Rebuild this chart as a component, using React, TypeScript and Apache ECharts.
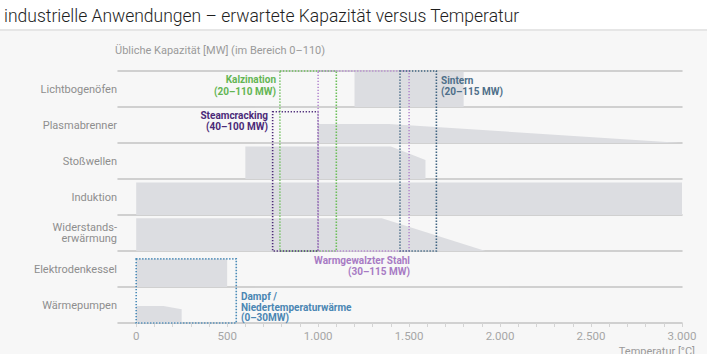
import React, { useEffect, useRef } from "react";
import * as echarts from "echarts";

// ---- data ----
const rowNames = [
  "Lichtbogenöfen",
  "Plasmabrenner",
  "Stoßwellen",
  "Induktion",
  "Widerstands-\nerwärmung",
  "Elektrodenkessel",
  "Wärmepumpen",
];

// capacity profiles: [temperature °C, capacity MW]
const lichtbogenoefen = [[1200, 0], [1200, 108], [1800, 108], [1800, 0]];
const plasmabrenner = [[1000, 0], [1000, 58], [1390, 58], [3000, 0]];
const stosswellen = [[600, 0], [600, 99], [1400, 99], [1590, 58], [1590, 0]];
const induktion = [[0, 0], [0, 99], [3000, 99], [3000, 0]];
const widerstand = [[0, 0], [0, 100], [1350, 100], [1920, 0]];
const elektrodenkessel = [[0, 0], [0, 86], [500, 86], [500, 0]];
const waermepumpen = [[0, 0], [0, 52], [150, 52], [250, 42], [250, 0]];
const profiles = [lichtbogenoefen, plasmabrenner, stosswellen, induktion, widerstand, elektrodenkessel, waermepumpen];

// application boxes: [tempMin, tempMax, rowTop, rowBottom] (rows counted from top)
const boxNames = ["Kalzination", "Steamcracking", "Warmgewalzter Stahl", "Sintern", "Dampf / Niedertemperaturwärme"];
const boxRanges = [
  [790, 1100, 0, 5],
  [750, 1000, 1.13, 5],
  [1000, 1500, 0, 5],
  [1450, 1650, 0, 5],
  [0, 550, 5.22, 7],
];
const boxColors = ["#6cbf5a", "#4b2a78", "#b58bd0", "#3f6482", "#4a8bb8"];

const labelTicks = [0, 500, 1000, 1500, 2000, 2500, 3000];
const minorTicks = [0, 100, 200, 300, 400, 500, 600, 700, 800, 900, 1000, 1100, 1200, 1300, 1400, 1500, 1600, 1700, 1800, 1900, 2000, 2100, 2200, 2300, 2400, 2500, 2600, 2700, 2800, 2900, 3000];

const FONT = 'Roboto, "Noto Sans", sans-serif';

export default function App() {
  const ref = useRef<HTMLDivElement>(null);
  useEffect(() => {
    if (!ref.current) return;
    const chart = echarts.init(ref.current, undefined, { renderer: "svg" });
    const left = 118;
    const right = 25;
    const rowTop = 71;
    const rowH = 36;
    const lineColor = "#c4c4c4";

    const grids: any[] = [];
    const xAxes: any[] = [];
    const yAxes: any[] = [];
    const series: any[] = [];

    profiles.forEach((p, i) => {
      const last = i === profiles.length - 1;
      grids.push({ left, right, top: rowTop + rowH * i, height: rowH });
      xAxes.push({
        type: "value",
        gridIndex: i,
        min: -100,
        max: 3000,
        axisLine: { show: true, lineStyle: { color: lineColor, width: 1.5 } },
        axisTick: last
          ? { show: true, customValues: minorTicks, length: 4, lineStyle: { color: "#d4d4d4" } }
          : { show: false },
        axisLabel: last
          ? {
              show: true,
              customValues: labelTicks,
              margin: 7,
              color: "#a6a6a6",
              fontSize: 11.5,
              fontFamily: FONT,
              formatter: (v: number) => String(v).replace(/\B(?=(\d{3})+(?!\d))/g, "."),
            }
          : { show: false },
        splitLine: { show: false },
      });
      yAxes.push({ type: "value", gridIndex: i, min: 0, max: 110, show: false });
      series.push({
        type: "line",
        name: rowNames[i],
        xAxisIndex: i,
        yAxisIndex: i,
        data: p,
        symbol: "none",
        lineStyle: { width: 0 },
        areaStyle: { color: "#dcdde1", opacity: 1 },
        silent: true,
        z: 1,
      });
    });

    // overlay grid
    grids.push({ left, right, top: rowTop, height: rowH * 7 });
    xAxes.push({
      type: "value",
      gridIndex: 7,
      position: "top",
      min: -100,
      max: 3000,
      axisLine: { show: true, lineStyle: { color: lineColor, width: 1.5 } },
      axisTick: { show: false },
      axisLabel: { show: false },
      splitLine: { show: false },
    });
    yAxes.push({
      type: "category",
      gridIndex: 7,
      data: rowNames,
      inverse: true,
      axisLine: { show: false },
      axisTick: { show: false },
      axisLabel: { color: "#8e8e8e", fontSize: 11, fontFamily: FONT, margin: 1, lineHeight: 11.5 },
    });
    yAxes.push({ type: "value", gridIndex: 7, min: 0, max: 7, inverse: true, show: false });

    boxRanges.forEach((b, k) => {
      series.push({
        type: "custom",
        name: boxNames[k],
        xAxisIndex: 7,
        yAxisIndex: 8,
        clip: false,
        silent: true,
        z: 5,
        encode: { x: [0, 1], y: [2, 3] },
        data: [b],
        renderItem: (_params: any, api: any) => {
          const p0 = api.coord([api.value(0), api.value(2)]);
          const p1 = api.coord([api.value(1), api.value(3)]);
          return {
            type: "rect",
            shape: { x: p0[0], y: p0[1], width: p1[0] - p0[0], height: p1[1] - p0[1] },
            style: { fill: "none", stroke: boxColors[k], lineWidth: 1.6, lineDash: [1.3, 1.7] },
          };
        },
      });
    });

    const bold = (text: string, x: number, y: number, align: string, fill: string, lh = 11.5) => ({
      type: "text",
      x,
      y,
      style: { text, align, verticalAlign: "top", fill, fontSize: 10, fontWeight: "bold", fontFamily: FONT, lineHeight: lh },
      z: 10,
    });

    chart.setOption({
      animation: false,
      title: {
        text: "industrielle Anwendungen – erwartete Kapazität versus Temperatur",
        left: -1,
        top: 2,
        textStyle: { fontSize: 17.5, fontWeight: 300, color: "#1e1e1e", fontFamily: FONT },
      },
      grid: grids,
      xAxis: xAxes,
      yAxis: yAxes,
      series,
      graphic: [
        {
          type: "text",
          x: 115,
          y: 50,
          style: { text: "Übliche Kapazität [MW] (im Bereich 0–110)", fill: "#9a9a9a", fontSize: 11, fontFamily: FONT, verticalAlign: "middle" },
        },
        bold("Kalzination\n(20–110 MW)", 276, 73.5, "right", "#63b553", 11.8),
        bold("Steamcracking\n(40–100 MW)", 268, 109.5, "right", "#4b2a78", 11.5),
        bold("Sintern\n(20–115 MW)", 441, 74.5, "left", "#4e6f89", 11),
        bold("Warmgewalzter Stahl\n(30–115 MW)", 410, 254.5, "right", "#a77bc4", 11),
        bold("Dampf /\nNiedertemperaturwärme\n(0–30MW)", 241, 291.5, "left", "#4a86b3", 10.4),
        {
          type: "text",
          x: 695,
          y: 351,
          style: { text: "Temperatur [°C]", align: "right", verticalAlign: "middle", fill: "#9a9a9a", fontSize: 11, fontFamily: FONT },
        },
      ],
    });
    return () => chart.dispose();
  }, []);
  return (
    <div
      style={{
        position: "fixed",
        left: 0,
        top: 0,
        width: 707,
        height: 354,
        background: "linear-gradient(#ffffff 0px, #ffffff 29px, #e6e6e6 29px, #e6e6e6 31px, #f7f7f7 31px)",
      }}
    >
      <div ref={ref} style={{ width: 707, height: 354 }} />
    </div>
  );
}
